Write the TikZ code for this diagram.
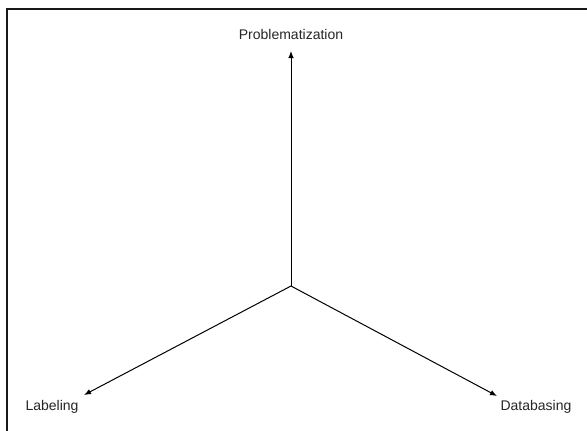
\documentclass[tikz,border=0pt]{standalone}
\usepackage{fontspec}
\setmainfont{Liberation Sans}
\usetikzlibrary{arrows.meta}
\begin{document}
\begin{tikzpicture}[x=1pt,y=-1pt,
  lbl/.style={font=\fontsize{14}{17}\selectfont, text=black!85, inner sep=0pt},
  axis/.style={line width=1pt, -{Latex[length=7pt,width=5.5pt]}}]
\useasboundingbox (0,0) rectangle (587,431);
\fill[white] (0,0) rectangle (587,431);
\draw[line width=2pt, black!90] (7,432) -- (7,9) -- (588,9);
\coordinate (c) at (291,286);
\node[lbl] (p) at (291,34) {Problematization};
\node[lbl] (l) at (52,407) {Labeling};
\node[lbl] (d) at (536,407) {Databasing};
\coordinate (pt) at (291,51);
\coordinate (lt) at (84,395);
\coordinate (dt) at (497,396);
\draw[axis] (c) -- (pt);
\draw[axis] (c) -- (lt);
\draw[axis] (c) -- (dt);
\end{tikzpicture}
\end{document}
